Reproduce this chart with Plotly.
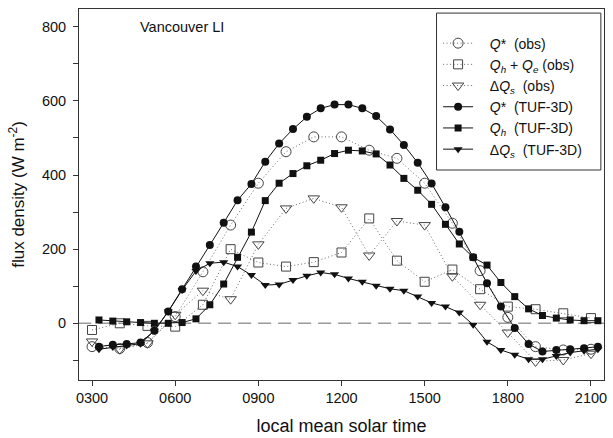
import plotly.graph_objects as go

# Observed fluxes, hourly (local mean solar time, hours)
obs_hours = [3, 4, 5, 6, 7, 8, 9, 10, 11, 12, 13, 14, 15, 16, 17, 18, 19, 20, 21]
obs_qstar = [-63, -68, -52, 18, 139, 265, 378, 463, 503, 503, 467, 445, 378, 270, 142, 16, -63, -72, -70]
obs_qhqe = [-18, 0, -7, -9, 50, 200, 164, 153, 165, 191, 283, 169, 112, 145, 92, 45, 38, 27, 14]
obs_dqs = [-49, -70, -54, 23, 88, 65, 213, 310, 337, 313, 183, 276, 265, 127, 50, -25, -103, -99, -82]

# TUF-3D model output, half-hourly
tuf_hours = [3.25 + 0.5 * i for i in range(37)]
tuf_qstar = [-63, -58, -56, -52, -20, 32, 92, 153, 211, 271, 332, 376, 436, 485, 524, 557,
             580, 590, 590, 580, 559, 523, 481, 433, 377, 313, 247, 178, 108, 45, -13, -56,
             -76, -72, -70, -67, -63]
tuf_qh = [9, 6, 4, 2, 0, 0, 2, 12, 50, 106, 178, 246, 331, 378, 404, 425,
          440, 458, 467, 465, 457, 427, 391, 359, 321, 267, 214, 178, 157, 110, 72, 39,
          21, 14, 9, 7, 7]
tuf_dqs = [-70, -64, -60, -55, -20, 32, 90, 141, 162, 165, 153, 130, 103, 105, 117, 128,
           137, 132, 121, 112, 101, 93, 88, 72, 55, 45, 29, -4, -50, -72, -85, -97,
           -97, -88, -79, -74, -70]

tick_hours = [3, 6, 9, 12, 15, 18, 21]
tick_text = ["0300", "0600", "0900", "1200", "1500", "1800", "2100"]

FONT = "Liberation Sans, Arial, sans-serif"
OBS_LINE = "#6a6a6a"
OBS_MARK = "#444444"
TUF = "#111111"
PAD = "&nbsp;&nbsp;&nbsp;"

fig = go.Figure()

# zero reference line
fig.add_trace(go.Scatter(
    x=[2.5, 21.5], y=[0, 0], mode="lines",
    line=dict(color="#9a9a9a", width=1.5, dash="13px,7px"),
    showlegend=False, hoverinfo="skip"))

obs_series = [
    (obs_qstar, "circle-open", 10, "<i>Q</i>*  (obs)"),
    (obs_qhqe, "square-open", 9, "<i>Q<sub>h</sub></i> + <i>Q<sub>e</sub></i> (obs)"),
    (obs_dqs, "triangle-down-open", 10, "Δ<i>Q<sub>s</sub></i>  (obs)"),
]
for vals, sym, size, name in obs_series:
    fig.add_trace(go.Scatter(
        x=obs_hours, y=vals, mode="lines+markers", name=PAD + name,
        line=dict(color=OBS_LINE, width=1, dash="1px,2.5px"),
        marker=dict(symbol=sym, size=size, color=OBS_MARK, line=dict(width=1, color=OBS_MARK))))

tuf_series = [
    (tuf_qstar, "circle", 8, "<i>Q</i>*  (TUF-3D)"),
    (tuf_qh, "square", 7, "<i>Q<sub>h</sub></i>  (TUF-3D)"),
    (tuf_dqs, "triangle-down", 8, "Δ<i>Q<sub>s</sub></i>  (TUF-3D)"),
]
for vals, sym, size, name in tuf_series:
    fig.add_trace(go.Scatter(
        x=tuf_hours, y=vals, mode="lines+markers", name=PAD + name,
        line=dict(color=TUF, width=1),
        marker=dict(symbol=sym, size=size, color=TUF, line=dict(width=0))))

# legend frame
fig.add_shape(type="rect", xref="paper", yref="paper",
              x0=0.681, x1=0.994, y0=0.566, y1=0.989,
              line=dict(color="#333333", width=1), fillcolor="white", layer="below")

fig.add_annotation(x=0.112, y=0.951, xref="paper", yref="paper", text="Vancouver LI",
                   showarrow=False, xanchor="left", yanchor="middle",
                   font=dict(family=FONT, size=14.5, color="#111111"))

fig.update_layout(
    width=613, height=438,
    margin=dict(l=79, r=6, t=9, b=58),
    paper_bgcolor="white", plot_bgcolor="white",
    font=dict(family=FONT, size=14, color="#111111"),
    legend=dict(x=0.684, y=0.950, xanchor="left", yanchor="top",
                bgcolor="rgba(0,0,0,0)", borderwidth=0,
                font=dict(family=FONT, size=14, color="#111111"),
                tracegroupgap=0),
    xaxis=dict(range=[2.53, 21.47], tickvals=tick_hours, ticktext=tick_text,
               ticks="outside", ticklen=5, tickcolor="#333333",
               showline=True, linecolor="#333333", linewidth=1, mirror=True,
               showgrid=False, zeroline=False,
               tickfont=dict(family=FONT, size=14.5),
               title=dict(text="local mean solar time", font=dict(family=FONT, size=18), standoff=13)),
    yaxis=dict(range=[-153, 848], tickvals=[0, 200, 400, 600, 800],
               ticks="outside", ticklen=5, tickcolor="#333333", ticklabelstandoff=4,
               minor=dict(tickvals=[-100, 100, 300, 500, 700], ticks="outside", ticklen=5, tickcolor="#333333"),
               showline=True, linecolor="#333333", linewidth=1, mirror=True,
               showgrid=False, zeroline=False,
               tickfont=dict(family=FONT, size=14.5),
               title=dict(text="flux density (W m<sup>-2</sup>)", font=dict(family=FONT, size=17), standoff=12)),
)

fig.write_html("out.html")
